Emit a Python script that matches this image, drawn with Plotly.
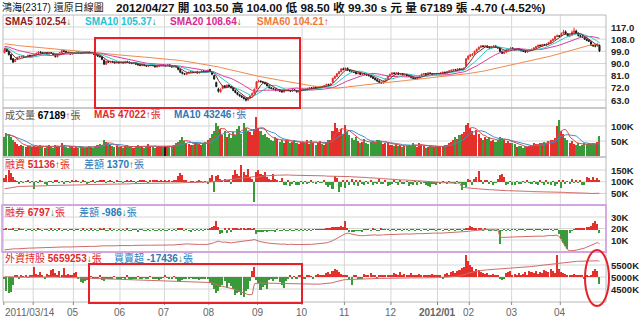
import plotly.graph_objects as go
import pandas as pd

# ---------------- calendar: trading days per month ----------------
month_labels = ["2011/03/14", "", "05", "06", "07", "08", "09", "10", "11", "12", "2012/01", "02", "03", "04"]
month_days = [14, 19, 22, 21, 21, 23, 21, 20, 22, 22, 15, 20, 23, 19]

# closes before 2011/03/14 (only used to warm up the moving averages)
pre_close = [106, 107, 106.5, 107.5, 108, 107, 106.5, 105.5, 106, 107,
             108, 108.5, 107.5, 106.5, 105.5, 104.5, 105, 106, 105.5, 104.5,
             103.5, 104, 105, 106, 106.5, 105.5, 104.5, 104, 105, 105.5,
             106, 105, 104, 103.5, 104.5, 105.5, 106, 105, 104, 103,
             102.5, 103.5, 104.5, 105, 104, 103, 102.5, 103.5, 104, 103,
             102, 101.5, 102.5, 103.5, 102.5, 101.5, 101, 101.5, 101]

open_p = [
    98.0, 100.5, 99.0, 96.5, 93.5, 91.5, 93.0, 94.5, 95.0, 95.5, 94.5, 95.0, 96.0, 95.5,
    96.0, 96.5, 97.5, 98.5, 98.0, 97.5, 98.0, 97.0, 98.0, 97.5, 96.5, 95.0, 96.5, 98.0, 99.5, 99.0, 98.0, 97.5, 97.0,
    97.5, 98.0, 98.5, 98.0, 97.5, 98.5, 98.0, 98.5, 97.5, 98.0, 97.0, 96.0, 95.5, 95.0, 92.5, 89.5, 91.5, 91.0, 91.5, 91.0, 90.5, 91.0,
    90.5, 91.0, 90.5, 91.5, 91.0, 90.5, 90.0, 90.5, 89.5, 89.0, 88.5, 89.0, 88.5, 88.0, 88.5, 89.0, 88.5, 87.5, 88.0, 88.5, 89.0,
    88.0, 88.5, 89.0, 88.0, 87.5, 88.0, 87.5, 85.5, 83.5, 82.5, 82.0, 83.0, 83.5, 84.0, 83.5, 84.0, 83.0, 83.5, 84.5, 84.0, 83.5,
    85.5, 84.0, 81.0, 76.0, 71.0, 69.0, 71.5, 73.5, 72.5, 74.0, 73.0, 72.0, 70.0, 68.5, 67.0, 66.0, 65.0, 64.0, 63.0, 64.5, 66.0, 68.0, 71.5,
    76.5, 77.0, 76.5, 76.0, 75.0, 73.5, 72.0, 71.5, 71.0, 70.0, 70.5, 69.5, 69.0, 70.0, 70.5, 70.0, 69.5, 70.5, 70.0, 69.0, 70.0,
    70.5, 71.0, 70.5, 71.5, 72.0, 71.5, 72.5, 71.5, 72.0, 73.0, 72.5, 73.5, 74.5, 74.0, 76.0, 79.0, 80.5, 82.5, 84.0, 86.0,
    85.5, 86.5, 85.0, 84.5, 84.0, 83.5, 82.5, 83.0, 82.0, 82.5, 82.0, 81.5, 81.0, 80.0, 79.0, 78.0, 77.0, 76.0, 75.5, 77.0, 78.5, 80.5,
    82.0, 83.0, 82.5, 83.0, 82.0, 82.5, 81.5, 82.0, 81.0, 80.5, 79.5, 79.0, 78.5, 79.5, 81.0, 82.0, 82.5, 82.0, 83.0, 82.5, 82.0, 82.5,
    82.0, 82.5, 83.0, 83.5, 83.0, 84.0, 84.5, 85.0, 85.5, 85.0, 86.0, 85.5, 86.0, 88.0, 93.5,
    95.5, 96.5, 97.0, 99.0, 100.5, 102.0, 103.0, 102.5, 103.0, 102.0, 101.5, 102.5, 103.0, 102.0, 101.5, 99.0, 97.5, 98.5, 100.0, 100.5,
    101.5, 100.5, 100.0, 101.0, 100.0, 99.5, 99.0, 98.5, 99.5, 100.0, 100.5, 101.5, 102.5, 103.5, 103.0, 104.0, 103.5, 104.5, 105.5, 107.0, 108.0, 110.0, 110.5,
    110.5, 112.0, 113.5, 112.0, 110.5, 111.0, 113.0, 114.0, 112.5, 110.6, 110.0, 109.5, 108.0, 107.0, 106.0, 103.5, 103.0, 103.0, 103.5]
high_p = [
    101.5, 101.0, 99.5, 97.0, 94.0, 93.5, 95.0, 95.5, 96.0, 96.0, 95.5, 96.5, 96.5, 96.5,
    97.0, 98.0, 99.0, 99.0, 98.5, 98.5, 98.5, 98.5, 98.5, 98.0, 97.0, 97.0, 98.5, 100.0, 100.0, 99.5, 98.5, 98.0, 98.0,
    98.5, 99.0, 99.0, 98.5, 99.0, 99.0, 99.0, 99.0, 98.5, 98.5, 97.5, 96.5, 96.0, 95.5, 93.0, 92.0, 92.0, 92.0, 92.0, 91.5, 91.5, 91.5,
    91.5, 91.5, 92.0, 92.0, 91.5, 91.0, 91.0, 91.0, 90.0, 89.5, 89.5, 89.5, 89.0, 89.0, 89.5, 89.5, 89.0, 88.5, 89.0, 89.5, 89.5,
    89.0, 89.5, 89.5, 88.5, 88.5, 88.5, 88.0, 86.0, 84.0, 83.0, 83.5, 84.0, 84.5, 84.5, 84.5, 84.5, 84.0, 85.0, 85.0, 84.5, 85.5,
    86.0, 84.5, 81.5, 76.5, 72.0, 71.5, 74.0, 74.0, 74.5, 74.5, 73.5, 72.5, 70.5, 69.0, 67.5, 66.5, 65.5, 64.5, 65.0, 66.5, 68.5, 71.5, 77.0,
    78.0, 77.5, 77.0, 76.5, 75.5, 74.0, 72.5, 72.0, 71.5, 71.0, 71.0, 70.0, 70.5, 71.0, 71.0, 70.5, 71.0, 71.0, 70.5, 70.5, 71.0,
    71.5, 71.5, 72.0, 72.5, 72.5, 73.0, 73.0, 72.5, 73.5, 73.5, 74.0, 75.0, 75.0, 75.5, 79.5, 81.0, 83.0, 84.5, 86.5, 87.0,
    87.0, 87.0, 85.5, 85.0, 84.5, 84.0, 83.5, 83.5, 83.0, 83.0, 82.5, 82.0, 81.5, 80.5, 79.5, 78.5, 77.5, 76.5, 77.5, 79.0, 81.0, 82.5,
    83.5, 83.5, 83.5, 83.5, 83.0, 83.0, 82.5, 82.5, 81.5, 81.0, 80.0, 79.5, 80.0, 81.5, 82.5, 83.0, 83.0, 83.5, 83.5, 83.0, 83.0, 83.0,
    83.0, 83.5, 84.0, 84.0, 84.5, 85.0, 85.5, 86.0, 86.0, 86.5, 86.5, 86.5, 87.0, 94.0, 96.0,
    97.0, 97.5, 99.5, 101.0, 102.5, 103.5, 103.5, 103.5, 103.5, 102.5, 103.0, 103.5, 103.5, 102.5, 102.0, 99.5, 99.0, 100.5, 101.0, 102.0,
    102.0, 101.0, 101.5, 101.5, 100.5, 100.0, 99.5, 100.0, 100.5, 101.0, 102.0, 103.0, 104.0, 104.0, 104.5, 104.5, 105.0, 106.0, 107.5, 108.5, 110.5, 111.5, 111.0,
    113.0, 115.0, 114.5, 112.5, 112.0, 114.5, 116.5, 115.0, 113.0, 111.5, 111.0, 110.0, 108.5, 108.0, 106.5, 104.5, 104.0, 105.0, 104.0]
low_p = [
    97.5, 98.5, 96.0, 92.5, 90.5, 91.0, 92.5, 94.0, 94.5, 94.0, 94.0, 94.5, 95.0, 95.0,
    95.5, 96.0, 97.0, 97.5, 97.0, 97.0, 96.5, 96.5, 97.0, 96.0, 94.5, 94.5, 96.0, 97.5, 98.5, 97.5, 97.0, 96.5, 96.5,
    97.0, 97.5, 97.5, 97.0, 97.0, 97.5, 97.5, 97.0, 97.0, 96.5, 95.5, 95.0, 94.5, 92.5, 89.0, 89.0, 90.5, 90.5, 90.5, 90.0, 90.0, 90.0,
    90.0, 90.0, 90.0, 90.5, 90.0, 89.5, 89.5, 89.0, 88.5, 88.0, 88.0, 88.0, 87.5, 87.5, 88.0, 88.0, 87.0, 87.0, 87.5, 88.0, 88.0,
    87.5, 88.0, 87.5, 87.0, 87.0, 87.0, 85.0, 83.0, 82.0, 81.5, 81.5, 82.5, 83.0, 83.0, 83.0, 82.5, 82.5, 83.0, 83.5, 83.0, 83.0,
    84.0, 81.5, 78.0, 72.5, 68.5, 68.5, 71.0, 72.0, 72.0, 72.5, 71.5, 69.5, 68.0, 66.5, 65.5, 64.5, 63.5, 62.0, 62.5, 64.0, 65.5, 67.5, 71.0,
    76.0, 76.0, 75.5, 74.5, 73.0, 71.5, 71.0, 70.5, 69.5, 69.5, 69.0, 68.5, 68.5, 69.5, 69.5, 69.0, 69.0, 69.5, 68.5, 68.5, 69.5,
    70.0, 70.0, 70.0, 71.0, 71.0, 71.0, 71.0, 71.0, 71.5, 72.0, 72.0, 73.0, 73.5, 73.5, 75.5, 78.5, 80.0, 82.0, 83.5, 85.0,
    85.0, 84.5, 84.0, 83.5, 83.0, 82.0, 82.0, 81.5, 81.5, 81.5, 81.0, 80.5, 79.5, 78.5, 77.5, 76.5, 75.5, 75.0, 75.0, 76.5, 78.0, 80.0,
    81.5, 82.0, 82.0, 81.5, 81.5, 81.0, 81.0, 80.5, 80.0, 79.0, 78.5, 78.0, 78.0, 79.0, 80.5, 81.5, 81.5, 81.5, 82.0, 81.5, 81.5, 81.5,
    81.5, 82.0, 82.5, 82.5, 82.5, 83.5, 84.0, 84.5, 84.5, 84.5, 85.0, 85.0, 85.5, 87.5, 92.5,
    95.0, 95.5, 96.5, 98.5, 100.0, 101.5, 102.0, 102.0, 101.5, 101.0, 101.0, 102.0, 101.5, 101.0, 98.5, 97.0, 97.0, 98.0, 99.5, 100.0,
    100.0, 99.5, 99.5, 99.5, 99.0, 98.5, 98.0, 98.0, 99.0, 99.5, 100.0, 101.0, 102.0, 102.5, 102.5, 103.0, 103.0, 104.0, 105.0, 106.5, 107.5, 109.5, 109.5,
    110.0, 111.5, 111.5, 110.0, 109.5, 110.5, 112.5, 112.0, 110.0, 109.0, 109.0, 107.5, 106.5, 106.0, 103.0, 102.5, 102.0, 102.5, 98.5]
close_p = [
    100.5, 99.0, 96.5, 93.0, 91.0, 93.0, 94.5, 95.0, 95.5, 94.5, 95.0, 96.0, 95.5, 96.0,
    96.5, 97.5, 98.5, 98.0, 97.5, 98.0, 97.0, 98.0, 97.5, 96.5, 95.0, 96.5, 98.0, 99.5, 99.0, 98.0, 97.5, 97.0, 97.5,
    98.0, 98.5, 98.0, 97.5, 98.5, 98.0, 98.5, 97.5, 98.0, 97.0, 96.0, 95.5, 95.0, 93.0, 89.5, 91.5, 91.0, 91.5, 91.0, 90.5, 91.0, 90.5,
    91.0, 90.5, 91.5, 91.0, 90.5, 90.0, 90.5, 89.5, 89.0, 88.5, 89.0, 88.5, 88.0, 88.5, 89.0, 88.5, 87.5, 88.0, 88.5, 89.0, 88.5,
    88.5, 89.0, 88.0, 87.5, 88.0, 87.5, 85.5, 83.5, 82.5, 82.0, 83.0, 83.5, 84.0, 83.5, 84.0, 83.0, 83.5, 84.5, 84.0, 83.5, 85.0,
    84.5, 82.0, 78.5, 73.0, 69.5, 71.0, 73.5, 72.5, 74.0, 73.0, 72.0, 70.0, 68.5, 67.0, 66.0, 65.0, 64.0, 63.0, 64.5, 66.0, 68.0, 71.0, 76.5,
    77.0, 76.5, 76.0, 75.0, 73.5, 72.0, 71.5, 71.0, 70.0, 70.5, 69.5, 69.0, 70.0, 70.5, 70.0, 69.5, 70.5, 70.0, 69.0, 70.0, 70.5,
    71.0, 70.5, 71.5, 72.0, 71.5, 72.5, 71.5, 72.0, 73.0, 72.5, 73.5, 74.5, 74.0, 75.0, 79.0, 80.5, 82.5, 84.0, 86.0, 85.5,
    86.5, 85.0, 84.5, 84.0, 83.5, 82.5, 83.0, 82.0, 82.5, 82.0, 81.5, 81.0, 80.0, 79.0, 78.0, 77.0, 76.0, 75.5, 77.0, 78.5, 80.5, 82.0,
    83.0, 82.5, 83.0, 82.0, 82.5, 81.5, 82.0, 81.0, 80.5, 79.5, 79.0, 78.5, 79.5, 81.0, 82.0, 82.5, 82.0, 83.0, 82.5, 82.0, 82.5, 82.0,
    82.5, 83.0, 83.5, 83.0, 84.0, 84.5, 85.0, 85.5, 85.0, 86.0, 85.5, 86.0, 86.5, 93.5, 95.5,
    96.5, 97.0, 99.0, 100.5, 102.0, 103.0, 102.5, 103.0, 102.0, 101.5, 102.5, 103.0, 102.0, 101.5, 99.0, 97.5, 98.5, 100.0, 100.5, 101.5,
    100.5, 100.0, 101.0, 100.0, 99.5, 99.0, 98.5, 99.5, 100.0, 100.5, 101.5, 102.5, 103.5, 103.0, 104.0, 103.5, 104.5, 105.5, 107.0, 108.0, 110.0, 110.5, 110.0,
    112.0, 113.5, 112.0, 110.5, 111.0, 113.0, 114.0, 112.5, 110.6, 110.0, 109.5, 108.0, 107.0, 106.5, 103.5, 103.0, 102.9, 104.0, 99.3]

# 成交量 (thousand 張)
volume_k = [
    62, 78, 72, 65, 55, 48, 40, 35, 38, 33, 30, 35, 32, 30,
    35, 30, 32, 38, 30, 28, 33, 36, 30, 27, 38, 34, 29, 42, 35, 30, 28, 32, 30,
    28, 30, 26, 32, 29, 27, 31, 35, 30, 28, 33, 36, 40, 38, 52, 48, 42, 36, 33, 30, 34, 31,
    30, 28, 33, 36, 31, 29, 27, 34, 38, 32, 30, 28, 35, 40, 33, 30, 28, 31, 34, 30, 29,
    32, 30, 35, 33, 38, 42, 48, 55, 62, 50, 44, 40, 38, 36, 42, 45, 40, 38, 44, 48, 52,
    60, 75, 85, 110, 100, 90, 70, 85, 65, 75, 60, 80, 70, 90, 100, 75, 110, 95, 85, 80, 70, 90, 130,
    95, 85, 70, 75, 65, 60, 55, 50, 62, 58, 48, 52, 45, 55, 50, 42, 47, 52, 44, 40, 46,
    48, 42, 52, 40, 55, 45, 38, 44, 50, 41, 37, 46, 52, 55, 85, 110, 95, 80, 90, 75,
    105, 80, 70, 60, 55, 65, 50, 45, 48, 58, 42, 40, 46, 50, 44, 55, 52, 48, 40, 45, 42, 38,
    38, 35, 40, 33, 36, 30, 32, 35, 38, 34, 42, 36, 30, 45, 38, 33, 28, 30, 34, 31, 29, 33,
    30, 33, 35, 38, 36, 42, 48, 55, 62, 58, 70, 75, 80, 105, 110,
    95, 85, 70, 88, 75, 60, 55, 65, 58, 62, 50, 55, 48, 52, 65, 60, 55, 45, 50, 42,
    45, 40, 30, 35, 32, 28, 35, 30, 33, 38, 42, 40, 38, 45, 42, 48, 44, 50, 55, 52, 60, 100, 120,
    85, 75, 60, 55, 45, 50, 40, 38, 42, 35, 38, 42, 40, 42, 40, 42, 39, 46.8, 67.189]

# 融資 balance (thousand 張) and daily change
margin_bal_k = [
    70, 72, 74, 76, 78, 79, 79, 80, 80, 80, 81, 81, 81, 82,
    82, 82, 82, 83, 83, 83, 83, 84, 84, 84, 84, 85, 85, 85, 85, 85, 86, 86, 86,
    86, 86, 87, 87, 87, 87, 88, 88, 88, 88, 88, 89, 89, 89, 90, 90, 90, 90, 90, 90, 90, 91,
    91, 91, 91, 91, 91, 92, 92, 92, 92, 92, 92, 92, 93, 93, 93, 93, 93, 93, 93, 94, 94,
    94, 94, 94, 94, 95, 95, 95, 95, 96, 96, 96, 96, 96, 97, 97, 97, 97, 97, 98, 98, 98,
    99, 100, 101, 103, 105, 106, 107, 108, 108, 109, 110, 111, 112, 113, 114, 115, 117, 118, 119, 120, 121, 122, 118,
    121, 123, 124, 125, 126, 126, 127, 127, 128, 128, 128, 129, 129, 129, 129, 128, 128, 128, 128, 127, 127,
    127, 127, 126, 126, 126, 126, 126, 125, 125, 125, 125, 124, 124, 124, 123, 124, 125, 125, 124, 123,
    123, 122, 122, 121, 121, 120, 120, 119, 119, 118, 118, 117, 117, 116, 115, 115, 114, 114, 113, 112, 111, 110,
    110, 109, 109, 108, 108, 108, 107, 107, 106, 106, 105, 105, 104, 104, 103, 103, 102, 101, 100, 99, 98, 97,
    97, 96, 96, 96, 95, 95, 95, 95, 94, 94, 94, 76, 75, 74, 74,
    73, 72, 71, 70, 69, 68, 68, 67, 67, 66, 66, 65, 65, 64, 64, 63, 63, 62, 62, 62,
    61, 61, 61, 60, 60, 60, 59, 59, 59, 58, 58, 58, 58, 57, 57, 57, 56, 56, 56, 56, 55, 55, 55,
    55, 55, 54, 54, 54, 53, 53, 53, 53, 52, 52, 52, 51, 51, 50, 50, 49.8, 49.8, 51.136]
margin_chg_k = [
    2.5, 4.0, 7.0, 5.5, 3.0, 1.2, 0.5, -0.8, 0.6, -0.5, 0.4, 0.8, -0.3, 0.5,
    -4.0, 0.5, -0.6, 0.8, 0.3, -1.2, -1.5, 0.4, 0.6, -0.5, 0.7, 1.0, -0.4, 0.5, -0.8, 0.3, 0.6, -0.3, 0.8,
    0.5, 1.2, 0.3, -0.6, 0.8, 0.4, -0.8, -0.5, 0.6, 0.9, -0.4, 0.5, 1.5, 0.8, 1.2, -0.6, 0.4, 0.7, 0.3, -0.5, 1.0, 0.6,
    0.4, -0.6, 0.3, 0.8, 0.5, 1.0, 0.6, -0.4, 0.5, 1.2, 1.5, 0.8, 0.6, -0.3, 1.0, 0.9, 1.3, 0.7, 0.5, 1.1, 0.6,
    0.8, 0.5, 1.0, 0.6, 1.2, 0.8, 3.5, 5.5, 4.0, 1.5, 0.8, -0.5, 0.6, 0.3, -0.4, 0.5, 1.0, 0.4, -0.6, 0.3, -0.8,
    2.5, 4.0, -6.0, 3.5, 4.5, 2.0, 1.5, 2.0, 1.0, 1.5, -1.0, 4.0, 7.5, 5.0, 3.5, 10.0, 6.0, 4.5, 8.0, 3.0, 2.0, -12.0, 6.0,
    7.0, 5.0, 4.0, 6.0, 3.0, 2.0, 1.5, 5.0, 2.0, 1.0, 0.5, 2.5, -1.5, -2.0, 0.8, -2.5, -1.0, 0.6, -2.0, -1.5, 0.5,
    -0.8, 0.5, -1.0, -0.5, 0.8, -0.6, -1.2, 0.4, -0.5, -0.3, 1.5, -2.0, -3.0, -1.5, -4.0, 3.5, 2.5, -6.0, -3.0, 1.0,
    -3.5, 1.5, -2.0, 2.0, -1.5, 0.8, -2.5, 1.0, -0.8, -1.5, 0.5, -1.0, 1.2, -2.0, -0.5, -1.2, 2.0, -1.0, -0.8, 1.5, -2.5, -1.5,
    -1.0, 0.8, -0.6, -1.5, 1.0, -0.8, -1.2, 0.6, -2.5, -1.0, -1.5, 0.5, -2.0, 0.4, -1.0, -0.6, -1.5, -2.5, -3.0, -1.2, -1.0, -1.8,
    -0.6, -1.0, 0.3, -0.5, -0.8, 0.5, -0.4, -0.6, -1.0, 0.4, -0.5, -4.5, -1.5, -3.0, 2.0,
    1.0, -1.5, 2.0, 3.0, 6.5, 1.5, -1.0, 1.2, 0.8, -0.8, 0.5, -1.5, -0.6, 2.0, 4.5, 5.0, 3.0, -2.0, -1.0, 0.5,
    -1.5, -2.0, 0.6, -1.0, -0.8, 0.4, -0.6, 1.0, -0.5, -1.2, 0.5, -0.8, -2.0, 1.2, -0.5, -1.5, 0.8, -1.0, -1.8, 0.6, -2.5, -1.0, 0.7,
    -3.5, 1.5, -1.0, 0.5, -1.2, 2.0, -0.6, 0.8, -0.5, 1.0, -1.5, -2.0, 3.0, 2.5, 1.5, 3.0, 1.0, 2.5, 1.37]

# 融券 balance (thousand 張) and daily change
short_bal_k = [
    1.5, 1.8, 2.0, 2.2, 2.5, 2.4, 2.3, 2.5, 2.6, 2.8, 2.7, 2.9, 3.0, 3.0,
    3.1, 3.0, 3.2, 3.3, 3.2, 3.4, 3.5, 3.4, 3.6, 3.5, 3.7, 3.6, 3.8, 3.7, 3.9, 4.0, 3.9, 4.0, 4.1,
    4.0, 4.1, 4.2, 4.1, 4.3, 4.2, 4.4, 4.3, 4.5, 4.4, 4.6, 4.5, 4.7, 4.8, 5.0, 4.9, 4.8, 5.0, 4.9, 5.1, 5.0, 5.2,
    5.1, 5.2, 5.0, 5.3, 5.2, 5.1, 5.3, 5.4, 5.2, 5.3, 5.5, 5.4, 5.3, 5.5, 5.4, 5.6, 5.5, 5.4, 5.6, 5.5, 5.7,
    5.6, 5.5, 5.7, 5.6, 5.8, 5.7, 6.0, 6.3, 6.5, 6.4, 6.6, 6.5, 6.3, 6.4, 6.2, 6.3, 6.1, 6.2, 6.0, 6.1, 6.3,
    6.5, 7.0, 7.8, 8.5, 9.0, 8.5, 8.0, 8.2, 7.8, 8.0, 7.5, 7.8, 8.0, 8.3, 8.5, 8.8, 9.0, 9.2, 9.5, 9.8, 10.0, 10.5, 9.5,
    9.0, 8.5, 8.0, 7.8, 7.5, 7.2, 7.0, 6.8, 6.5, 6.8, 6.5, 6.3, 6.5, 6.2, 6.0, 6.3, 6.1, 6.0, 6.2, 6.0, 6.1,
    6.0, 6.2, 6.1, 6.3, 6.2, 6.4, 6.5, 6.6, 6.8, 7.0, 7.2, 7.5, 8.0, 8.5, 9.5, 10.5, 11.5, 12.5, 14.0, 15.0,
    15.5, 16.0, 15.5, 15.0, 14.5, 14.2, 14.0, 13.8, 13.5, 13.8, 14.0, 14.2, 14.0, 14.3, 14.5, 14.2, 14.0, 14.3, 14.5, 14.6, 14.8, 14.6,
    14.8, 15.0, 14.8, 15.0, 15.1, 15.0, 15.2, 15.3, 15.1, 15.3, 15.5, 15.4, 15.5, 15.6, 15.5, 15.7, 15.8, 15.6, 15.8, 15.9, 16.0, 15.9,
    16.0, 16.1, 16.0, 16.2, 16.3, 16.2, 16.4, 16.5, 16.4, 16.6, 16.8, 16.6, 16.8, 17.0, 17.5,
    17.8, 18.0, 18.3, 18.5, 18.8, 19.0, 18.8, 19.0, 19.2, 19.0, 18.8, 19.0, 18.8, 19.0, 12.5, 12.3, 12.5, 12.4, 12.6, 12.5,
    12.6, 12.7, 12.5, 12.8, 12.9, 13.0, 12.8, 13.0, 13.1, 13.2, 13.0, 13.2, 13.3, 13.4, 13.2, 13.5, 13.6, 13.8, 14.0, 13.8, 14.0, 14.2, 13.0,
    10.5, 7.0, 4.0, 1.5, 0.6, 0.5, 0.8, 1.2, 1.5, 2.0, 2.5, 3.0, 3.8, 4.5, 5.5, 6.5, 7.2, 7.783, 6.797]
short_chg_k = [
    0.3, 0.4, 0.2, 0.3, 0.5, -0.2, -0.3, 0.4, 0.2, 0.3, -0.2, 0.3, 0.2, -0.1,
    0.2, -0.3, 0.4, 0.2, -0.2, 0.3, 0.2, -0.3, 0.4, -0.2, 0.3, -0.2, 0.4, -0.2, 0.3, 0.2, -0.2, 0.2, 0.3,
    -0.3, 0.2, 0.3, -0.2, 0.4, -0.2, 0.3, -0.2, 0.4, -0.2, 0.3, -0.2, 0.4, 0.3, 0.6, -0.3, -0.2, 0.4, -0.2, 0.3, -0.2, 0.3,
    -0.2, 0.2, -0.3, 0.5, -0.2, -0.2, 0.3, 0.2, -0.4, 0.2, 0.3, -0.2, -0.2, 0.3, -0.2, 0.3, -0.2, -0.2, 0.3, -0.2, 0.3,
    -0.2, -0.2, 0.3, -0.2, 0.3, -0.2, 0.5, 0.6, 0.4, -0.2, 0.3, -0.2, -0.4, 0.2, -0.3, 0.2, -0.3, 0.2, -0.3, 0.2, 0.3,
    0.4, 1.0, 1.5, 3.0, 1.0, -1.5, -1.0, 0.5, -1.0, 0.4, -0.8, 0.5, 0.4, 0.6, 0.3, 0.5, 0.4, 0.3, 0.5, 0.4, 0.3, 0.8, -1.5,
    -0.6, -0.8, -0.5, -0.3, -0.4, -0.3, -0.3, -0.3, -0.4, 0.3, -0.3, -0.2, 0.3, -0.3, -0.2, 0.3, -0.2, -0.1, 0.2, -0.2, 0.1,
    -0.2, 0.3, -0.2, 0.3, -0.2, 0.3, 0.2, 0.2, 0.3, 0.3, 0.3, 0.5, 0.6, 0.6, 1.2, 1.0, 1.2, 1.0, 1.5, 1.0,
    3.0, 0.8, -0.6, -0.5, -0.6, -0.3, -0.3, -0.2, -0.4, 0.3, 0.3, 0.2, -0.3, 0.4, 0.2, -0.3, -0.2, 0.4, 0.3, 0.2, 0.3, -0.3,
    0.3, 0.3, -0.3, 0.3, 0.2, -0.2, 0.3, 0.2, -0.3, 0.3, 0.3, -0.2, 0.2, 0.2, -0.2, 0.3, 0.2, -0.3, 0.3, 0.2, 0.2, -0.2,
    0.2, 0.2, -0.2, 0.3, 0.2, -0.2, 0.3, 0.2, -0.2, 0.3, 0.3, -0.3, 0.3, 0.6, 0.8,
    1.5, 1.2, 0.6, 0.5, 0.8, 0.4, -0.3, 0.4, 0.3, -0.3, -0.3, 0.3, -0.3, 0.3, -5.0, -0.3, 0.3, -0.2, 0.3, -0.2,
    0.2, 0.2, -0.3, 0.3, 0.2, 0.2, -0.3, 0.3, 0.2, 0.2, -0.3, 0.3, 0.2, 0.2, -0.3, 0.3, 0.2, 0.3, 0.3, -0.3, 0.3, 0.3, -1.5,
    -3.0, -4.5, -5.5, -6.5, -1.0, -0.2, 0.3, 0.5, 0.4, 0.6, 0.6, 0.7, 1.0, 1.0, 1.5, 2.5, 3.0, 2.0, -0.986]

# 外資持股 (thousand 張) and 買賣超 (thousand 張)
foreign_bal_k = [
    5010, 5005, 5000, 4995, 4990, 4995, 5000, 4998, 4995, 4990, 4992, 4995, 4990, 4988,
    4990, 4995, 4998, 5000, 4995, 4990, 4992, 4995, 4998, 5000, 4998, 4995, 4990, 4988, 4985, 4990, 4992, 4988, 4985,
    4982, 4980, 4978, 4975, 4972, 4970, 4968, 4965, 4962, 4960, 4958, 4955, 4950, 4945, 4940, 4935, 4930, 4928, 4925, 4920, 4918, 4915,
    4912, 4910, 4905, 4900, 4898, 4895, 4890, 4888, 4885, 4880, 4878, 4875, 4870, 4868, 4865, 4860, 4858, 4855, 4850, 4848, 4845,
    4842, 4840, 4838, 4835, 4832, 4830, 4825, 4820, 4815, 4812, 4810, 4808, 4805, 4800, 4798, 4795, 4790, 4788, 4785, 4780, 4778,
    4770, 4750, 4720, 4680, 4640, 4620, 4600, 4590, 4570, 4560, 4540, 4520, 4480, 4440, 4400, 4360, 4320, 4290, 4270, 4260, 4280, 4720, 4740,
    4745, 4750, 4748, 4745, 4740, 4738, 4735, 4730, 4728, 4725, 4722, 4720, 4718, 4715, 4712, 4710, 4708, 4705, 4702, 4700, 4698,
    4695, 4692, 4690, 4688, 4690, 4692, 4695, 4700, 4705, 4710, 4715, 4720, 4730, 4740, 4760, 4790, 4820, 4850, 4870, 4880,
    4890, 4895, 4900, 4905, 4910, 4912, 4915, 4918, 4920, 4922, 4925, 4928, 4930, 4932, 4935, 4938, 4940, 4942, 4945, 4948, 4950, 4952,
    4950, 4952, 4955, 4958, 4955, 4958, 4960, 4962, 4960, 4958, 4960, 4962, 4965, 4962, 4960, 4962, 4965, 4968, 4970, 4968, 4970, 4972,
    4975, 4978, 4980, 4985, 4990, 4995, 5000, 5010, 5020, 5030, 5045, 5060, 5080, 5120, 5160,
    5190, 5210, 5220, 5240, 5260, 5270, 5280, 5290, 5300, 5305, 5310, 5320, 5325, 5330, 5335, 5340, 5350, 5360, 5370, 5380,
    5385, 5390, 5395, 5400, 5405, 5410, 5415, 5420, 5430, 5440, 5450, 5460, 5470, 5480, 5490, 5500, 5510, 5520, 5530, 5545, 5560, 5580, 5600,
    5610, 5620, 5625, 5630, 5635, 5640, 5645, 5650, 5655, 5660, 5665, 5670, 5672, 5675, 5678, 5680, 5682, 5676.7, 5659.253]
foreign_chg_k = [
    -5, -35, -40, -38, -20, 3, 5, -3, 4, 2, 6, -2, 3, 4,
    25, 8, 5, 12, 6, -3, 8, 4, 18, 20, 10, 5, 15, 6, 22, 3, 8, 4, 6,
    10, 12, -6, -12, -15, -10, -8, -5, 2, -4, -6, -3, 4, -8, -10, -5, -4, -3, -6, 2, -5, -3,
    -4, -2, -6, 3, -5, -8, -4, -3, 2, -5, -3, -2, -6, -4, 2, -3, -5, -4, -8, -3, -2,
    3, -2, -4, -6, 2, -3, -10, -12, -8, -5, -3, -4, -2, -6, -5, -3, -8, -4, -3, -6, -4,
    -15, -20, -30, -40, -35, -25, -20, -10, -28, -15, -22, -30, -45, -40, -38, -45, -50, -35, -30, -10, 15, 25, -8,
    -15, -32, -25, -20, -30, -8, -5, -10, -4, -3, -12, -20, -28, -10, -5, 3, -4, 2, -3, 5, 4,
    -5, -3, 4, 6, 2, -4, 5, 8, 6, 4, 3, 10, 12, 8, 15, 20, 18, 12, 8, 5,
    6, 4, -8, -20, 5, 3, -5, -4, -3, 8, 5, 4, 10, 6, 3, -3, 4, 5, 3, 6, 4, 5,
    6, 10, 8, 4, 12, 6, 8, 4, 5, 10, 6, 4, 3, 8, 5, 6, 4, 3, 6, 8, 5, 4,
    6, 5, -4, 8, 10, 6, 12, 15, 10, 14, 18, 22, 25, 55, 40,
    30, 25, 15, 20, 18, 12, 10, 8, 10, 5, 6, 8, 5, 4, -5, -8, -4, 10, 12, 15,
    6, 8, 5, 10, 6, 8, 12, 6, 15, 12, 10, 14, 8, 12, 10, 18, 15, 12, 20, 15, 10, 55, 20,
    12, 10, 8, 5, 6, 4, 8, 6, 5, 6, 4, -5, 3, 2, 4, 15, 20, 14, -17.436]

price_ticks = [117, 108, 99, 90, 81, 72, 63]
vol_ticks = [100, 50]
margin_ticks = [150, 100, 50]
short_ticks = [30, 20, 10]
foreign_ticks = [5500, 5000, 4500]

# ---------------- geometry ----------------
W, H = 640, 317
FONT = "Liberation Sans, Noto Sans CJK TC, sans-serif"
RED, GRN, BLK = "#e3302a", "#3a9a3a", "#1a1a1a"
X0, X1 = 3, 606           # plot area in px
PX_PER_DAY = 2.117
FIRST_X = 4.6


def py(y):
    return 1 - y / H


def rng(top, bot, v1, y1, v2, y2):
    s = (v1 - v2) / (y2 - y1)
    return [v1 - (bot - y1) * s, v1 + (y1 - top) * s]


panels = {"p": (15, 108), "v": (108, 157), "m": (157, 205), "s": (205, 252), "f": (252, 302)}

N = len(close_p)
idx = list(range(N))
starts = [sum(month_days[:k]) for k in range(len(month_days))]

allc = pd.Series(pre_close + close_p)


def sma(n):
    return allc.rolling(n, min_periods=1).mean().iloc[len(pre_close):].tolist()


vs = pd.Series(volume_k)
vma5 = vs.rolling(5, min_periods=1).mean().tolist()
vma10 = vs.rolling(10, min_periods=1).mean().tolist()

prev = [pre_close[-1]] + close_p[:-1]
vcol = [RED if c > p else (GRN if c < p else BLK) for c, p in zip(close_p, prev)]

fig = go.Figure()
fig.add_trace(go.Candlestick(
    x=idx, open=open_p, high=high_p, low=low_p, close=close_p,
    increasing=dict(line=dict(color=RED, width=1), fillcolor=RED),
    decreasing=dict(line=dict(color=BLK, width=1), fillcolor=BLK),
    whiskerwidth=0, xaxis="x", yaxis="y", showlegend=False, hoverinfo="skip"))
for n, col in [(60, "#f08a4b"), (20, "#d93fa0"), (10, "#2ec9c9"), (5, "#7a3030")]:
    fig.add_trace(go.Scatter(x=idx, y=sma(n), mode="lines", line=dict(color=col, width=1),
                             xaxis="x", yaxis="y", showlegend=False, hoverinfo="skip"))

fig.add_trace(go.Bar(x=idx, y=volume_k, marker=dict(color=vcol, line=dict(width=0)), width=0.72,
                     xaxis="x", yaxis="y2", showlegend=False, hoverinfo="skip"))
fig.add_trace(go.Scatter(x=idx, y=vma10, mode="lines", line=dict(color="#3f8fcc", width=1),
                         xaxis="x", yaxis="y2", showlegend=False, hoverinfo="skip"))
fig.add_trace(go.Scatter(x=idx, y=vma5, mode="lines", line=dict(color="#e04848", width=1),
                         xaxis="x", yaxis="y2", showlegend=False, hoverinfo="skip"))


def pn(vals):
    return [RED if v >= 0 else GRN for v in vals]


fig.add_trace(go.Bar(x=idx, y=margin_chg_k, marker=dict(color=pn(margin_chg_k), line=dict(width=0)), width=0.72,
                     xaxis="x", yaxis="y3", showlegend=False, hoverinfo="skip"))
fig.add_trace(go.Scatter(x=idx, y=margin_bal_k, mode="lines", line=dict(color="#d06a6a", width=1),
                         xaxis="x", yaxis="y4", showlegend=False, hoverinfo="skip"))
fig.add_trace(go.Bar(x=idx, y=short_chg_k, marker=dict(color=pn(short_chg_k), line=dict(width=0)), width=0.72,
                     xaxis="x", yaxis="y5", showlegend=False, hoverinfo="skip"))
fig.add_trace(go.Scatter(x=idx, y=short_bal_k, mode="lines", line=dict(color="#d06a6a", width=1),
                         xaxis="x", yaxis="y6", showlegend=False, hoverinfo="skip"))
fig.add_trace(go.Bar(x=idx, y=foreign_chg_k, marker=dict(color=pn(foreign_chg_k), line=dict(width=0)), width=0.72,
                     xaxis="x", yaxis="y7", showlegend=False, hoverinfo="skip"))
fig.add_trace(go.Scatter(x=idx, y=foreign_bal_k, mode="lines", line=dict(color="#d06a6a", width=1),
                         xaxis="x", yaxis="y8", showlegend=False, hoverinfo="skip"))

r0 = -(FIRST_X - X0) / PX_PER_DAY
r1 = r0 + (X1 - X0) / PX_PER_DAY


def yax(panel, r, overlay=None):
    t, b = panels[panel]
    d = dict(range=r, visible=False, fixedrange=True)
    if overlay:
        d["overlaying"] = overlay
    else:
        d["domain"] = [py(b), py(t)]
    d["anchor"] = "x"
    return d


axes = {
    "yaxis": yax("p", rng(15, 108, 117, 27, 63, 100)),
    "yaxis2": yax("v", rng(108, 157, 100, 126, 50, 141)),
    "yaxis3": yax("m", rng(157, 205, 0, 182, 6, 172)),
    "yaxis4": yax("m", rng(157, 205, 150, 170, 50, 193.5), overlay="y3"),
    "yaxis5": yax("s", rng(205, 252, 0, 230, 3.5, 220)),
    "yaxis6": yax("s", rng(205, 252, 30, 217, 10, 240), overlay="y5"),
    "yaxis7": yax("f", rng(252, 302, 0, 277, 25, 267)),
    "yaxis8": yax("f", rng(252, 302, 5500, 265, 4500, 289), overlay="y7"),
}

shapes = []
GRID = "#d6d6d6"
# vertical month gridlines
for k in range(1, len(starts)):
    for pname, (t, b) in panels.items():
        shapes.append(dict(type="line", xref="x", yref="paper", x0=starts[k] - 0.5, x1=starts[k] - 0.5,
                           y0=py(b), y1=py(t), line=dict(color=GRID, width=1), layer="below"))
    shapes.append(dict(type="line", xref="x", yref="paper", x0=starts[k] - 0.5, x1=starts[k] - 0.5,
                       y0=py(302), y1=py(305), line=dict(color="#888", width=1)))
shapes.append(dict(type="line", xref="x", yref="paper", x0=r0 + 0.4, x1=r0 + 0.4, y0=py(302), y1=py(305),
                   line=dict(color="#888", width=1)))
# horizontal gridlines
for yref, ticks in [("y", price_ticks), ("y2", vol_ticks), ("y4", margin_ticks), ("y6", short_ticks), ("y8", foreign_ticks)]:
    for v in ticks:
        shapes.append(dict(type="line", xref="paper", yref=yref, x0=X0 / W, x1=X1 / W, y0=v, y1=v,
                           line=dict(color=GRID, width=1), layer="below"))
# panel frames
for pname, (t, b) in panels.items():
    shapes.append(dict(type="rect", xref="paper", yref="paper", x0=X0 / W, x1=X1 / W, y0=py(b), y1=py(t),
                       line=dict(color="#b8b8b8", width=1), layer="below"))
shapes.append(dict(type="rect", xref="paper", yref="paper", x0=2 / W, x1=X1 / W, y0=py(252), y1=py(205),
                   line=dict(color="#d79be6", width=1.5)))
# red highlight marks
shapes.append(dict(type="rect", xref="paper", yref="paper", x0=95 / W, x1=300 / W, y0=py(108), y1=py(38),
                   line=dict(color="#e8202a", width=2)))
shapes.append(dict(type="rect", xref="paper", yref="paper", x0=89 / W, x1=302 / W, y0=py(303), y1=py(264),
                   line=dict(color="#e8202a", width=2)))
shapes.append(dict(type="circle", xref="paper", yref="paper", x0=585 / W, x1=609 / W, y0=py(306), y1=py(250),
                   line=dict(color="#e8202a", width=2)))

ann = []


def T(x, y, text, size=10, color="#000", anchor="left"):
    ann.append(dict(x=x / W, y=py(y), xref="paper", yref="paper", text=text, showarrow=False,
                    xanchor=anchor, yanchor="middle", font=dict(size=size, color=color, family=FONT)))


UP = '<span style="color:#e01818">↑</span>'
DN = '<span style="color:#11911a">↓</span>'

T(0, 7.5, '鴻海(2317) 還原日線圖', size=10, color="#111")
T(114, 7.5, '<b>2012/04/27 開 103.50 高 104.00 低 98.50 收 99.30 s 元 量 67189 張 -4.70 (-4.52%)</b>',
  size=11.7, color="#111")
T(3, 21, f'<b><span style="color:#8b1f1f">SMA5 102.54</span>{DN}</b>', 10)
T(83, 21, f'<b><span style="color:#27c3cf">SMA10 105.37</span>{DN}</b>', 10)
T(168, 21, f'<b><span style="color:#d8288f">SMA20 108.64</span>{DN}</b>', 10)
T(255, 21, f'<b><span style="color:#f07a3a">SMA60 104.21</span>{UP}</b>', 10)

T(3, 115, f'<span style="color:#555">成交量</span> <b>67189</b>{UP}<span style="color:#555">張</span>', 10)
T(92, 115, f'<b><span style="color:#e02a2a">MA5 47022</span>{UP}</b><span style="color:#e02a2a">張</span>', 10)
T(172, 115, f'<b><span style="color:#2a7ab8">MA10 43246</span>{UP}</b><span style="color:#2a7ab8">張</span>', 10)

T(3, 164, f'<span style="color:#e02a2a">融資 <b>51136</b></span><b>{UP}</b><span style="color:#e02a2a">張</span>', 10)
T(82, 164, f'<span style="color:#2a7ab8">差額 <b>1370</b></span><b>{UP}</b><span style="color:#2a7ab8">張</span>', 10)
T(3, 212, f'<span style="color:#e02a2a">融券 <b>6797</b></span><b>{DN}</b><span style="color:#e02a2a">張</span>', 10)
T(77, 212, f'<span style="color:#2a7ab8">差額 <b>-986</b></span><b>{DN}</b><span style="color:#2a7ab8">張</span>', 10)
T(3, 258, f'<span style="color:#e02a2a">外資持股 <b>5659253</b></span><b>{DN}</b><span style="color:#e02a2a">張</span>', 10)
T(112, 258, f'<span style="color:#2a7ab8">買賣超 <b>-17436</b></span><b>{DN}</b><span style="color:#2a7ab8">張</span>', 10)

# right-hand value labels
for yref, ticks, fmt in [("y", price_ticks, "{:.1f}"), ("y2", vol_ticks, "{}K"), ("y4", margin_ticks, "{}K"),
                         ("y6", short_ticks, "{}K"), ("y8", foreign_ticks, "{}K")]:
    for v in ticks:
        ann.append(dict(x=609 / W, y=v, xref="paper", yref=yref, text=f"<b>{fmt.format(v)}</b>", showarrow=False,
                        xanchor="left", yanchor="middle", font=dict(size=9.5, color="#222", family=FONT)))

# bottom month labels
for k, lab in enumerate(month_labels):
    if not lab:
        continue
    if k == 0:
        ann.append(dict(x=r0 + 0.2, y=py(312), xref="x", yref="paper", text=lab, showarrow=False,
                        xanchor="left", yanchor="middle", font=dict(size=10, color="#666", family=FONT)))
    else:
        txt = f"<b>{lab}</b>" if "/" in lab else lab
        ann.append(dict(x=starts[k] - 0.5, y=py(312), xref="x", yref="paper", text=txt, showarrow=False,
                        xanchor="center", yanchor="middle", font=dict(size=10, color="#666", family=FONT)))

fig.update_layout(
    width=W, height=H, margin=dict(l=0, r=0, t=0, b=0),
    paper_bgcolor="white", plot_bgcolor="white",
    xaxis=dict(domain=[X0 / W, X1 / W], range=[r0, r1], visible=False, fixedrange=True,
               rangeslider=dict(visible=False), anchor="y7"),
    shapes=shapes, annotations=ann, bargap=0, showlegend=False,
    **axes)

fig.write_html("out.html")
